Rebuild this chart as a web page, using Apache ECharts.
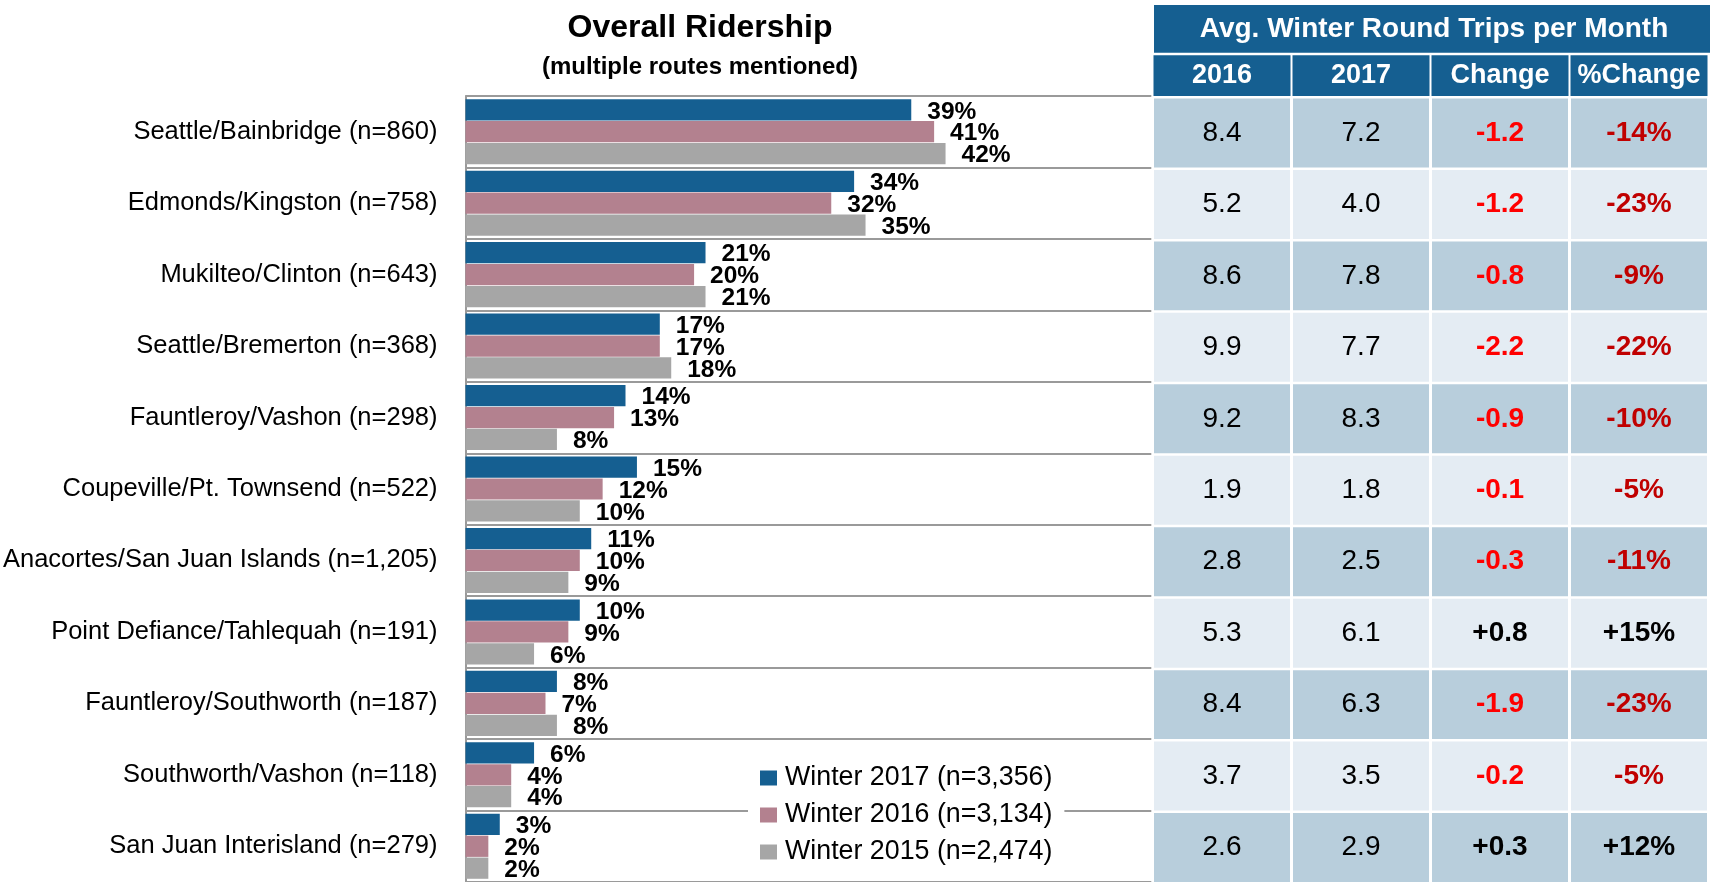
<!DOCTYPE html>
<html>
<head>
<meta charset="utf-8">
<title>Overall Ridership</title>
<script src="https://cdn.jsdelivr.net/npm/echarts@6/dist/echarts.min.js"></script>
<style>
  html, body {
    margin: 0;
    padding: 0;
    background: #fff;
  }
  #chart {
    width: 1710px;
    height: 882px;
  }
</style>
</head>
<body>
<div id="chart"></div>
<script>
// route categories, top to bottom
const routes = [
  'Seattle/Bainbridge (n=860)',
  'Edmonds/Kingston (n=758)',
  'Mukilteo/Clinton (n=643)',
  'Seattle/Bremerton (n=368)',
  'Fauntleroy/Vashon (n=298)',
  'Coupeville/Pt. Townsend (n=522)',
  'Anacortes/San Juan Islands (n=1,205)',
  'Point Defiance/Tahlequah (n=191)',
  'Fauntleroy/Southworth (n=187)',
  'Southworth/Vashon (n=118)',
  'San Juan Interisland (n=279)'
]
const seriesNames = ['Winter 2017 (n=3,356)', 'Winter 2016 (n=3,134)', 'Winter 2015 (n=2,474)']
const winter2017 = [39, 34, 21, 17, 14, 15, 11, 10, 8, 6, 3]
const winter2016 = [41, 32, 20, 17, 13, 12, 10, 9, 7, 4, 2]
const winter2015 = [42, 35, 21, 18, 8, 10, 9, 6, 8, 4, 2]

// table: avg. winter round trips per month
const tableTitle = 'Avg. Winter Round Trips per Month'
const tableCols = ['2016', '2017', 'Change', '%Change']
const trips2016 = ['8.4', '5.2', '8.6', '9.9', '9.2', '1.9', '2.8', '5.3', '8.4', '3.7', '2.6']
const trips2017 = ['7.2', '4.0', '7.8', '7.7', '8.3', '1.8', '2.5', '6.1', '6.3', '3.5', '2.9']
const tripChange = ['-1.2', '-1.2', '-0.8', '-2.2', '-0.9', '-0.1', '-0.3', '+0.8', '-1.9', '-0.2', '+0.3']
const tripPctChange = ['-14%', '-23%', '-9%', '-22%', '-10%', '-5%', '-11%', '+15%', '-23%', '-5%', '+12%']

const FONT = "'Liberation Sans', Arial, sans-serif"
const BLUE = '#155f91'
const lineColor = '#9a9a9a'

// one item per table cell: [column, row]
const cells = []
const tableData = [trips2016, trips2017, tripChange, tripPctChange]
routes.forEach((r, i) => {
  tableData.forEach((col, j) => {
    cells.push([j, i])
  })
})

function renderCell(params, api) {
  const col = api.value(0)
  const row = api.value(1)
  const p = api.coord([col, row])
  const size = api.size([1, 1])
  const txt = tableData[col][row]
  const negative = txt.charAt(0) === '-'
  let fill = '#000'
  let weight = 'normal'
  if (col === 2) {
    fill = negative ? '#ff0000' : '#000'
    weight = 'bold'
  } else if (col === 3) {
    fill = negative ? '#c00000' : '#000'
    weight = 'bold'
  }
  return {
    type: 'rect',
    shape: {
      x: p[0] - size[0] / 2 + 1.5,
      y: p[1] - size[1] / 2 + 2.5,
      width: size[0] - 3,
      height: size[1] - 2.5
    },
    style: { fill: row % 2 === 0 ? '#b8cedc' : '#e4ecf3' },
    textContent: {
      style: {
        text: txt,
        fontSize: 28,
        fontWeight: weight,
        fontFamily: FONT,
        fill: fill
      }
    },
    textConfig: { position: 'inside' }
  }
}

function barSeries(name, data, color) {
  return {
    name: name,
    type: 'bar',
    xAxisIndex: 0,
    yAxisIndex: 0,
    data: data,
    barGap: '3%',
    barCategoryGap: '9%',
    itemStyle: { color: color },
    label: {
      show: true,
      position: 'right',
      distance: 16,
      offset: [0, 2],
      formatter: '{c}%',
      fontSize: 24.5,
      fontWeight: 'bold',
      fontFamily: FONT,
      color: '#000'
    }
  }
}

const chart = echarts.init(document.getElementById('chart'))
chart.setOption({
  animation: false,
  textStyle: { fontFamily: FONT },
  title: {
    text: 'Overall Ridership',
    subtext: '(multiple routes mentioned)',
    left: 700,
    top: 10,
    textAlign: 'center',
    padding: 0,
    itemGap: 7,
    textStyle: { fontSize: 32, fontWeight: 'bold', color: '#000', lineHeight: 36, fontFamily: FONT },
    subtextStyle: { fontSize: 24, fontWeight: 'bold', color: '#000', lineHeight: 28, fontFamily: FONT }
  },
  legend: {
    orient: 'vertical',
    left: 748,
    top: 753,
    padding: [10, 12, 10, 12],
    backgroundColor: '#fff',
    itemWidth: 17,
    itemHeight: 15,
    itemGap: 7,
    icon: 'rect',
    data: seriesNames,
    textStyle: { fontSize: 26.8, lineHeight: 30, color: '#000', fontFamily: FONT, padding: [0, 0, 0, 3] }
  },
  grid: [
    { left: 464, top: 96, width: 687.3, height: 788 },
    { left: 1152.5, top: 96, width: 560, height: 788 }
  ],
  xAxis: [
    { type: 'value', gridIndex: 0, min: 0, max: 60, show: false },
    {
      type: 'category',
      gridIndex: 1,
      position: 'top',
      data: tableCols,
      axisLine: { show: false },
      axisTick: { show: false },
      splitLine: { show: false },
      axisLabel: {
        interval: 0,
        margin: 0,
        color: '#fff',
        fontSize: 27,
        fontWeight: 'bold',
        fontFamily: FONT,
        backgroundColor: BLUE,
        width: 137,
        height: 40.7,
        lineHeight: 40.7,
        align: 'center'
      }
    }
  ],
  yAxis: [
    {
      type: 'category',
      gridIndex: 0,
      inverse: true,
      data: routes,
      axisLine: { lineStyle: { color: lineColor, width: 2 } },
      axisTick: { length: 8, lineStyle: { color: lineColor, width: 2 } },
      splitLine: { show: true, lineStyle: { color: lineColor, width: 2 } },
      axisLabel: { margin: 28, fontSize: 25.5, color: '#000', fontFamily: FONT }
    },
    { type: 'category', gridIndex: 1, inverse: true, data: routes, show: false }
  ],
  graphic: [
    {
      type: 'rect',
      shape: { x: 1154, y: 5, width: 560, height: 47.7 },
      style: { fill: BLUE },
      textContent: {
        style: { text: tableTitle, fontSize: 28, fontWeight: 'bold', fill: '#fff', fontFamily: FONT }
      },
      textConfig: { position: 'inside' }
    }
  ],
  series: [
    barSeries(seriesNames[0], winter2017, BLUE),
    barSeries(seriesNames[1], winter2016, '#b3818f'),
    barSeries(seriesNames[2], winter2015, '#a6a6a6'),
    {
      type: 'custom',
      xAxisIndex: 1,
      yAxisIndex: 1,
      data: cells,
      renderItem: renderCell,
      silent: true
    }
  ]
})
</script>
</body>
</html>
